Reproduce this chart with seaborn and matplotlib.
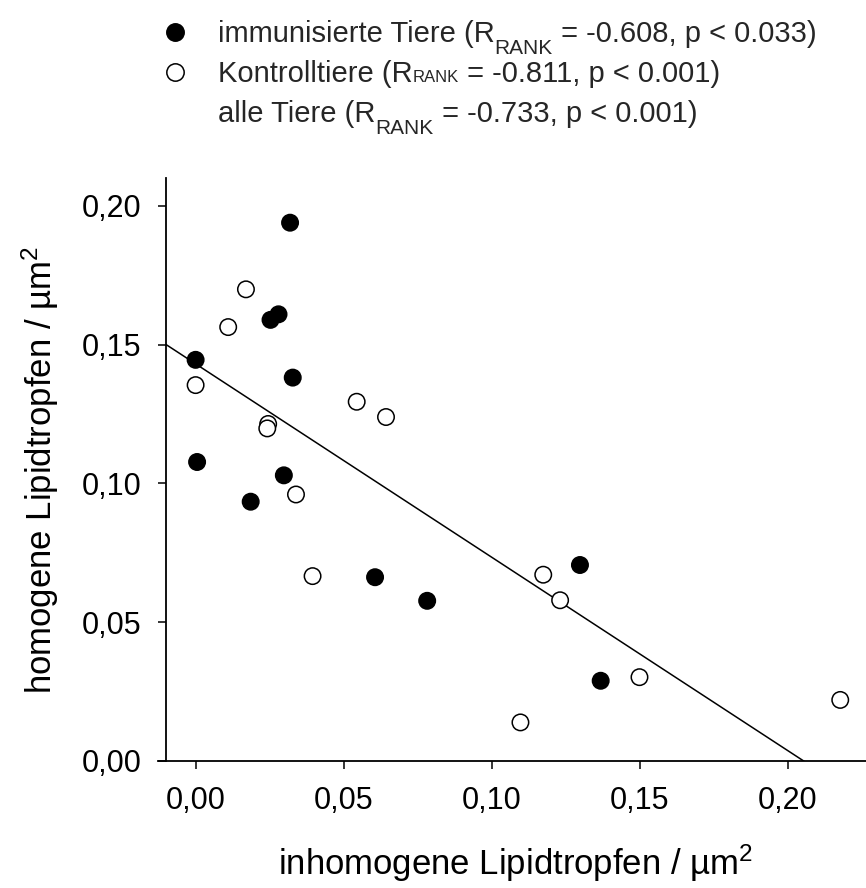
import numpy as np
import pandas as pd
import matplotlib
matplotlib.use("Agg")
import matplotlib.pyplot as plt
import seaborn as sns
from matplotlib.lines import Line2D

# ---- data ----
imm_x = [0.0319, 0.0280, 0.0253, 0.0000, 0.0328, 0.0005, 0.0298, 0.0186, 0.0606, 0.0782, 0.1298, 0.1368]
imm_y = [0.1939, 0.1609, 0.1589, 0.1445, 0.1381, 0.1077, 0.1029, 0.0934, 0.0662, 0.0577, 0.0706, 0.0289]
ktr_x = [0.0170, 0.0110, 0.0000, 0.0245, 0.0242, 0.0544, 0.0643, 0.0339, 0.0395, 0.1174, 0.1231, 0.1499, 0.1097, 0.2177]
ktr_y = [0.1699, 0.1563, 0.1354, 0.1214, 0.1198, 0.1294, 0.1239, 0.0960, 0.0666, 0.0671, 0.0579, 0.0302, 0.0139, 0.0220]
groups = ["immunisierte Tiere", "Kontrolltiere"]
x_ticks = [0.00, 0.05, 0.10, 0.15, 0.20]
x_tick_labels = ["0,00", "0,05", "0,10", "0,15", "0,20"]
y_ticks = [0.00, 0.05, 0.10, 0.15, 0.20]
y_tick_labels = ["0,00", "0,05", "0,10", "0,15", "0,20"]
x_label = r"inhomogene Lipidtropfen / µm$^{\mathrm{2}}$"
y_label = r"homogene Lipidtropfen / µm$^{\mathrm{2}}$"
legend_rows = [
    ("immunisierte Tiere (R", "RANK", " = -0.608, p < 0.033)", "sub"),
    ("Kontrolltiere (R", "RANK", " = -0.811, p < 0.001)", "base"),
    ("alle Tiere (R", "RANK", " = -0.733, p < 0.001)", "sub"),
]

df = pd.DataFrame({
    "x": imm_x + ktr_x,
    "y": imm_y + ktr_y,
    "Gruppe": [groups[0]] * len(imm_x) + [groups[1]] * len(ktr_x),
})

sns.set_style("ticks")
plt.rcParams["font.family"] = ["Liberation Sans", "DejaVu Sans"]
plt.rcParams["mathtext.fontset"] = "custom"
plt.rcParams["mathtext.rm"] = "Liberation Sans"
plt.rcParams["mathtext.it"] = "Liberation Sans:italic"
plt.rcParams["mathtext.bf"] = "Liberation Sans:bold"

W, H = 866, 888
fig = plt.figure(figsize=(W / 100, H / 100), dpi=100)
ax = fig.add_axes([166 / W, 1 - 761 / H, (866 - 166) / W, (761 - 178) / H])
XLIM = (-0.01, 0.2264)
YLIM = (0.0, 0.21)
ax.set_xlim(*XLIM)
ax.set_ylim(*YLIM)

sns.regplot(data=df, x="x", y="y", scatter=False, ci=None, truncate=False, ax=ax,
            line_kws=dict(color="black", lw=1.1))
sns.scatterplot(data=df, x="x", y="y", hue="Gruppe",
                palette={groups[0]: "black", groups[1]: "white"},
                edgecolor="black", linewidth=1.1, s=140, legend=False, ax=ax, zorder=3)
ax.set_xlim(*XLIM)
ax.set_ylim(*YLIM)

for s in ["top", "right"]:
    ax.spines[s].set_visible(False)
for s in ["left", "bottom"]:
    ax.spines[s].set_linewidth(1.3)
    ax.spines[s].set_color("black")
ax.spines["bottom"].set_bounds(-0.0127, XLIM[1])

ax.set_xticks(x_ticks)
ax.set_xticklabels(x_tick_labels)
ax.set_yticks(y_ticks)
ax.set_yticklabels(y_tick_labels)
ax.tick_params(direction="out", length=5.8, width=1.1, color="black", labelsize=22,
               labelcolor="black", pad=12)
ax.set_xlabel(x_label, fontsize=25, labelpad=19, color="black")
ax.set_ylabel(y_label, fontsize=25, labelpad=15, color="black")

# ---- legend block ----
FS = 21
SUB_LOW = 15
SUB_BASE = 12
marker_y = [32, 72, 112]
for i, mfc in enumerate(["black", "white"]):
    fig.add_artist(Line2D([175 / W], [1 - marker_y[i] / H], marker="o", ms=12.5,
                          mfc=mfc, mec="black", mew=1.1, transform=fig.transFigure))

fig.canvas.draw()
r = fig.canvas.get_renderer()
for i, (a, sub, b, mode) in enumerate(legend_rows):
    base = marker_y[i] + 10
    x = 218
    t = fig.text(x / W, 1 - base / H, a, fontsize=FS, va="baseline", ha="left")
    x = t.get_window_extent(r).x1
    if mode == "sub":
        t = fig.text(x / W, 1 - (base + 12) / H, sub, fontsize=SUB_LOW, va="baseline", ha="left")
    else:
        t = fig.text(x / W, 1 - base / H, sub, fontsize=SUB_BASE, va="baseline", ha="left")
    x = t.get_window_extent(r).x1
    fig.text(x / W, 1 - base / H, b, fontsize=FS, va="baseline", ha="left")

fig.savefig("out.png", dpi=100)
